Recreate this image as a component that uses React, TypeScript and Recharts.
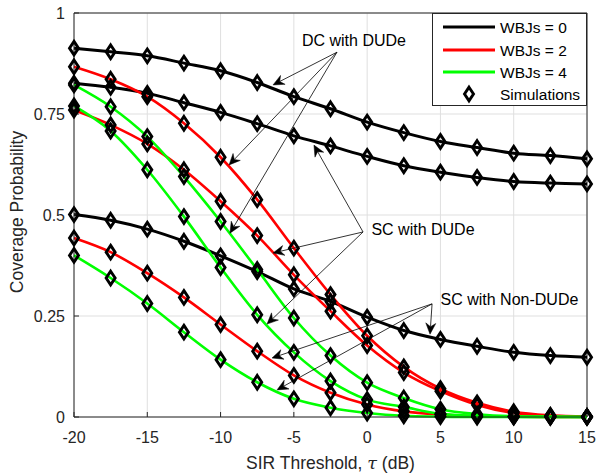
import { CartesianGrid, Legend, Line, LineChart, ReferenceDot, ReferenceLine, XAxis, YAxis } from 'recharts';

const FONT = '"Liberation Sans", Arial, Helvetica, sans-serif';
const AXIS = '#262626';

const thresholds = [-20, -17.5, -15, -12.5, -10, -7.5, -5, -2.5, 0, 2.5, 5, 7.5, 10, 12.5, 15];

// WBJs = 0
const blackDC = [0.913, 0.904, 0.894, 0.876, 0.857, 0.828, 0.793, 0.763, 0.73, 0.704, 0.682, 0.667, 0.653, 0.647, 0.639];
const blackSC = [0.826, 0.816, 0.801, 0.778, 0.754, 0.726, 0.696, 0.671, 0.645, 0.622, 0.606, 0.593, 0.583, 0.579, 0.577];
const blackNon = [0.501, 0.487, 0.465, 0.435, 0.399, 0.36, 0.317, 0.286, 0.247, 0.214, 0.192, 0.175, 0.16, 0.152, 0.148];
// WBJs = 2
const redDC = [0.867, 0.836, 0.793, 0.727, 0.643, 0.538, 0.418, 0.303, 0.201, 0.124, 0.07, 0.035, 0.013, 0.004, 0.001];
const redSC = [0.76, 0.723, 0.676, 0.612, 0.534, 0.449, 0.352, 0.262, 0.177, 0.11, 0.064, 0.03, 0.01, 0.003, 0.001];
const redNon = [0.443, 0.408, 0.356, 0.296, 0.229, 0.163, 0.103, 0.06, 0.031, 0.014, 0.006, 0.002, 0.001, 0, 0];
// WBJs = 4
const greenDC = [0.822, 0.768, 0.694, 0.595, 0.484, 0.365, 0.245, 0.152, 0.085, 0.047, 0.019, 0.007, 0.002, 0.001, 0];
const greenSC = [0.77, 0.708, 0.612, 0.496, 0.37, 0.253, 0.16, 0.089, 0.043, 0.025, 0.008, 0.003, 0.001, 0, 0];
const greenNon = [0.4, 0.344, 0.281, 0.21, 0.142, 0.086, 0.045, 0.023, 0.01, 0.003, 0.001, 0, 0, 0, 0];

const series = [
  { key: 'blackDC', color: '#000000', values: blackDC },
  { key: 'blackSC', color: '#000000', values: blackSC },
  { key: 'blackNon', color: '#000000', values: blackNon },
  { key: 'redDC', color: '#ff0000', values: redDC },
  { key: 'redSC', color: '#ff0000', values: redSC },
  { key: 'redNon', color: '#ff0000', values: redNon },
  { key: 'greenDC', color: '#00ff00', values: greenDC },
  { key: 'greenSC', color: '#00ff00', values: greenSC },
  { key: 'greenNon', color: '#00ff00', values: greenNon },
];

const xTicks = [-20, -15, -10, -5, 0, 5, 10, 15];
const yTicks = [0, 0.25, 0.5, 0.75, 1];

const legendItems = [
  { label: 'WBJs = 0', color: '#000000' },
  { label: 'WBJs = 2', color: '#ff0000' },
  { label: 'WBJs = 4', color: '#00ff00' },
];

const annotationLabels = [
  { text: 'DC with DUDe', x: -0.9, y: 0.931 },
  { text: 'SC with DUDe', x: 3.81, y: 0.463 },
  { text: 'SC with Non-DUDe', x: 9.71, y: 0.29 },
];

const annotationArrows = [
  { from: [-2.06, 0.903], to: [-6.42, 0.822] },
  { from: [-2.06, 0.903], to: [-9.42, 0.624] },
  { from: [-2.06, 0.903], to: [-9.36, 0.455] },
  { from: [-0.28, 0.458], to: [-3.63, 0.673] },
  { from: [-0.28, 0.458], to: [-6.42, 0.406] },
  { from: [-0.28, 0.458], to: [-6.83, 0.23] },
  { from: [4.43, 0.28], to: [4.29, 0.205] },
  { from: [4.43, 0.28], to: [-6.49, 0.146] },
  { from: [4.43, 0.28], to: [-6.15, 0.067] },
];

const data = thresholds.map((x, i) => {
  const row: Record<string, number> = { x };
  for (const s of series) row[s.key] = s.values[i];
  return row;
});

function diamondPath(cx: number, cy: number) {
  return `M${cx},${cy - 6.8} L${cx + 4.5},${cy} L${cx},${cy + 6.8} L${cx - 4.5},${cy} Z`;
}

function Diamond(props: any) {
  const { cx, cy, key } = props;
  if (cx == null || cy == null) return <g key={key} />;
  return <path key={key} d={diamondPath(cx, cy)} fill="none" stroke="#000" strokeWidth={2.9} />;
}

function ArrowShape(props: any) {
  const { x1, y1, x2, y2 } = props;
  const dx = x2 - x1;
  const dy = y2 - y1;
  const len = Math.hypot(dx, dy) || 1;
  const ux = dx / len;
  const uy = dy / len;
  const px = -uy;
  const py = ux;
  const L = 11;
  const W = 5;
  const notch = 7.5;
  const bx = x2 - ux * L;
  const by = y2 - uy * L;
  const nx = x2 - ux * notch;
  const ny = y2 - uy * notch;
  const head = `M${x2},${y2} L${bx + px * W},${by + py * W} L${nx},${ny} L${bx - px * W},${by - py * W} Z`;
  return (
    <g>
      <line x1={x1} y1={y1} x2={nx} y2={ny} stroke="#000" strokeWidth={0.8} />
      <path d={head} fill="#000" stroke="#000" strokeWidth={0.5} />
    </g>
  );
}

function LegendBox() {
  const rows = [13, 36, 58, 80];
  return (
    <div style={{ width: 155, height: 93, boxSizing: 'border-box', border: `1px solid ${AXIS}`, background: '#fff' }}>
      <svg width={153} height={91} style={{ display: 'block' }}>
        {legendItems.map((item, i) => (
          <g key={item.label}>
            <line x1={10} x2={62} y1={rows[i]} y2={rows[i]} stroke={item.color} strokeWidth={3} />
            <text x={67} y={rows[i]} dominantBaseline="central" fontFamily={FONT} fontSize={15.5} fill="#000">
              {item.label}
            </text>
          </g>
        ))}
        <path d={diamondPath(36, rows[3])} fill="none" stroke="#000" strokeWidth={2.9} />
        <text x={67} y={rows[3]} dominantBaseline="central" fontFamily={FONT} fontSize={15.5} fill="#000">
          Simulations
        </text>
      </svg>
    </div>
  );
}

function XLabel(props: any) {
  const { viewBox } = props;
  return (
    <text x={viewBox.x + viewBox.width / 2} y={viewBox.y + 46} textAnchor="middle" dominantBaseline="central" fontFamily={FONT} fontSize={17.5} fill={AXIS}>
      SIR Threshold, <tspan fontStyle="italic" fontFamily="DejaVu Serif, serif">τ</tspan> (dB)
    </text>
  );
}

function YLabel(props: any) {
  const { viewBox } = props;
  const cx = viewBox.x + 17;
  const cy = viewBox.y + viewBox.height / 2 - 3;
  return (
    <text x={cx} y={cy} transform={`rotate(-90 ${cx} ${cy})`} textAnchor="middle" dominantBaseline="central" fontFamily={FONT} fontSize={17.5} fill={AXIS}>
      Coverage Probability
    </text>
  );
}

export default function App() {
  return (
    <div style={{ position: 'absolute', left: 0, top: 0, width: 596, height: 476, background: '#fff' }}>
      <LineChart width={596} height={476} data={data} margin={{ top: 13, right: 9, bottom: 0, left: 0 }}>
        <CartesianGrid stroke="#dfdfdf" strokeWidth={1} horizontalValues={yTicks} verticalValues={xTicks} />
        <XAxis
          dataKey="x"
          type="number"
          domain={[-20, 15]}
          ticks={xTicks}
          height={59}
          stroke={AXIS}
          tickSize={-5}
          tickMargin={20}
          tick={{ fill: AXIS, fontSize: 16, fontFamily: FONT }}
          label={<XLabel />}
        />
        <YAxis
          type="number"
          domain={[0, 1]}
          ticks={yTicks}
          width={74}
          stroke={AXIS}
          tickSize={-5}
          tickMargin={14}
          tick={{ fill: AXIS, fontSize: 16, fontFamily: FONT }}
          label={<YLabel />}
        />
        <ReferenceLine y={1} stroke={AXIS} strokeWidth={1} />
        <ReferenceLine x={15} stroke={AXIS} strokeWidth={1} />
        {series.map((s) => (
          <Line
            key={`line-${s.key}`}
            dataKey={s.key}
            type="monotone"
            stroke={s.color}
            strokeWidth={s.color === '#000000' ? 3 : 2.6}
            dot={false}
            activeDot={false}
            legendType="none"
            isAnimationActive={false}
          />
        ))}
        {series.map((s) => (
          <Line
            key={`sim-${s.key}`}
            dataKey={s.key}
            stroke="none"
            dot={<Diamond />}
            activeDot={false}
            legendType="none"
            isAnimationActive={false}
          />
        ))}
        {annotationArrows.map((a, i) => (
          <ReferenceLine
            key={`arrow-${i}`}
            segment={[{ x: a.from[0], y: a.from[1] }, { x: a.to[0], y: a.to[1] }]}
            shape={ArrowShape}
          />
        ))}
        {annotationLabels.map((l) => (
          <ReferenceDot
            key={l.text}
            x={l.x}
            y={l.y}
            r={0}
            fill="none"
            stroke="none"
            label={{
              content: (p: any) => (
                <text x={p.viewBox.x} y={p.viewBox.y} textAnchor="middle" dominantBaseline="central" fontFamily={FONT} fontSize={16} fill="#000">
                  {l.text}
                </text>
              ),
            }}
          />
        ))}
        <Legend
          layout="vertical"
          align="center"
          verticalAlign="middle"
          content={<LegendBox />}
          wrapperStyle={{ left: 432, top: 13, width: 155, height: 93 }}
        />
      </LineChart>
    </div>
  );
}
